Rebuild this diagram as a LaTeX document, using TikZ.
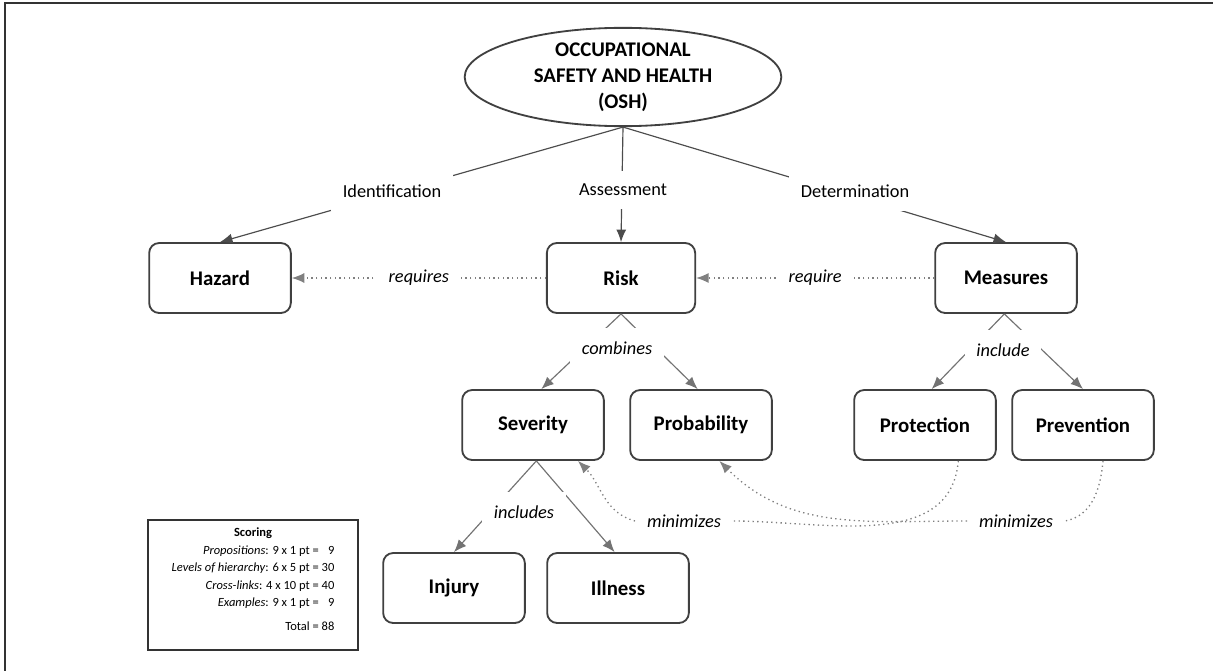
\documentclass[tikz,border=0pt]{standalone}
\usepackage{fontspec}
\setmainfont{Carlito}
\usetikzlibrary{shapes.geometric,arrows.meta}

\tikzset{
  concept/.style={draw=black!75, line width=1.1pt, rounded corners=6pt,
    minimum width=85pt, minimum height=42pt,
    font=\fontsize{12.5}{15}\selectfont\bfseries},
  linkword/.style={fill=white, inner xsep=7pt, inner ysep=8pt, font=\fontsize{11}{13}\selectfont},
  linkitalic/.style={linkword, font=\fontsize{11}{13}\selectfont\itshape},
  hlink/.style={draw=black!70, line width=0.7pt},
  branch/.style={draw=black!55, line width=0.7pt},
  crosslink/.style={draw=black!50, dotted, line width=0.8pt},
}

\begin{document}
\begin{tikzpicture}[x=0.6pt, y=0.6pt, >={Latex[length=7.5pt,width=6pt]}]
			\useasboundingbox (0,0) rectangle (1213,-671);
			\draw[black!80, line width=1.5pt] (5,-671) -- (5,-3) -- (1213,-3);

			% concepts
			\node[ellipse, draw=black!75, line width=1.1pt, minimum width=190pt, minimum height=59pt, inner sep=0pt,
				align=center, font=\fontsize{12.5}{15.5}\selectfont\bfseries] (osh) at (623,-77) {OCCUPATIONAL\\SAFETY AND HEALTH\\(OSH)};
			\node[concept] (hazard) at (220,-278) {Hazard};
			\node[concept, minimum width=89pt] (risk) at (621,-278) {Risk};
			\node[concept] (measures) at (1006,-278) {Measures};
			\node[concept] (severity) at (533,-425) {Severity};
			\node[concept] (probability) at (701,-425) {Probability};
			\node[concept] (protection) at (925,-425) {Protection};
			\node[concept] (prevention) at (1083,-425) {Prevention};
			\node[concept] (injury) at (454,-588) {Injury};
			\node[concept] (illness) at (618,-588) {Illness};

			% hierarchy
			\draw[hlink,->] (osh.south) -- (hazard.north);
			\draw[hlink,->] (osh.south) -- (risk.north);
			\draw[hlink,->] (osh.south) -- (measures.north);
			\draw[branch,->] (risk.south) -- ([xshift=5pt]severity.north);
			\draw[branch,->] (risk.south) -- ([xshift=-2pt]probability.north);
			\draw[branch,->] ([xshift=-1pt]measures.south) -- ([xshift=4pt]protection.north);
			\draw[branch,->] ([xshift=-1pt]measures.south) -- (prevention.north);
			\draw[branch,->] ([xshift=2pt]severity.south) -- (injury.north);
			\draw[branch,->] ([xshift=2pt]severity.south) -- ([xshift=-2pt]illness.north);

			\node[linkword] (identification) at (392,-191) {Identification};
			\node[linkword] (assessment) at (623,-190) {Assessment};
			\node[linkword] (determination) at (855,-191) {Determination};
			\node[linkitalic] (combines) at (617,-348) {combines};
			\node[linkitalic] (include) at (1003,-350) {include};
			\node[linkitalic] (includes) at (524,-512) {includes};

			% cross-links
			\draw[crosslink,->] (risk.west) -- node[linkitalic] (requires) {requires} (hazard.east);
			\draw[crosslink,->] (measures.west) -- node[linkitalic] (require) {require} (risk.east);

			\node[linkitalic] (minimizesA) at (684,-521) {minimizes};
			\node[linkitalic] (minimizesB) at (1016,-521) {minimizes};
			\draw[crosslink] ([xshift=20pt]protection.south) to[out=-95,in=0] (minimizesA.east);
			\draw[crosslink,->] (minimizesA.west) to[out=165,in=-45] ([xshift=27pt]severity.south);
			\draw[crosslink] ([xshift=12pt]prevention.south) to[out=-95,in=10] (minimizesB.east);
			\draw[crosslink,->] (minimizesB.west) to[out=180,in=-45] ([xshift=11pt]probability.south);

			% scoring
			\node[draw=black!80, line width=1.1pt, minimum width=126pt, minimum height=78pt] (scoring) at (253,-585) {};
			\node[anchor=north, inner sep=0pt, font=\fontsize{7.5}{10.5}\selectfont] (scoringtext) at ([yshift=-3pt]scoring.north)
				{\begin{tabular}{@{}r@{}}
					\multicolumn{1}{@{}c@{}}{\textbf{Scoring}}\\
					\textit{Propositions}: 9 x 1 pt = \phantom{0}9\\
					\textit{Levels of hierarchy}: 6 x 5 pt = 30\\
					\textit{Cross-links}: 4 x 10 pt = 40\\
					\textit{Examples}: 9 x 1 pt = \phantom{0}9\\[4pt]
					Total = 88
				\end{tabular}};
		\end{tikzpicture}
\end{document}
